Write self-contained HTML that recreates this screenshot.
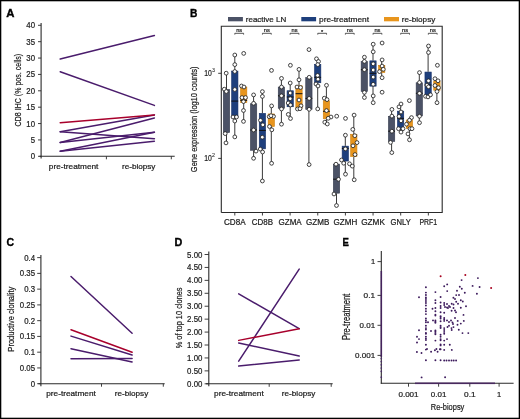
<!DOCTYPE html>
<html><head><meta charset="utf-8"><style>
html,body{margin:0;padding:0;background:#fff;}
body{width:520px;height:419px;overflow:hidden;}
svg{display:block;font-family:"Liberation Sans", sans-serif;will-change:transform;}
</style></head><body>
<svg width="520" height="419" viewBox="0 0 520 419">
<rect width="520" height="419" fill="#fff"/>
<rect x="0.6" y="0.6" width="518.8" height="417.8" fill="none" stroke="#000" stroke-width="1.4"/>
<text x="6.2" y="16.6" font-size="11" font-weight="bold" fill="#000" stroke="#000" stroke-width="0.35" textLength="8.2" lengthAdjust="spacingAndGlyphs">A</text>
<text x="189.9" y="16.9" font-size="11" font-weight="bold" fill="#000" stroke="#000" stroke-width="0.35" textLength="7.4" lengthAdjust="spacingAndGlyphs">B</text>
<text x="6.4" y="245.9" font-size="11" font-weight="bold" fill="#000" stroke="#000" stroke-width="0.35" textLength="7.6" lengthAdjust="spacingAndGlyphs">C</text>
<text x="174.6" y="245.9" font-size="11" font-weight="bold" fill="#000" stroke="#000" stroke-width="0.35" textLength="7.8" lengthAdjust="spacingAndGlyphs">D</text>
<text x="342.4" y="245.9" font-size="11" font-weight="bold" fill="#000" stroke="#000" stroke-width="0.35" textLength="6.4" lengthAdjust="spacingAndGlyphs">E</text>
<line x1="41.1" y1="23.0" x2="41.1" y2="158.5" stroke="#2a2a2a" stroke-width="1.1" />
<line x1="39.5" y1="156.3" x2="174.7" y2="156.3" stroke="#2a2a2a" stroke-width="1.1" />
<line x1="38.0" y1="156.3" x2="41.1" y2="156.3" stroke="#2a2a2a" stroke-width="0.9" />
<text x="35.0" y="159.3459" font-size="8.58" text-anchor="end" font-weight="normal" fill="#1c1c1c" textLength="4.34" lengthAdjust="spacingAndGlyphs"  stroke="#1c1c1c" stroke-width="0.22">0</text>
<line x1="38.0" y1="139.925" x2="41.1" y2="139.925" stroke="#2a2a2a" stroke-width="0.9" />
<text x="35.0" y="142.9709" font-size="8.58" text-anchor="end" font-weight="normal" fill="#1c1c1c" textLength="4.34" lengthAdjust="spacingAndGlyphs"  stroke="#1c1c1c" stroke-width="0.22">5</text>
<line x1="38.0" y1="123.55000000000001" x2="41.1" y2="123.55000000000001" stroke="#2a2a2a" stroke-width="0.9" />
<text x="35.0" y="126.59590000000001" font-size="8.58" text-anchor="end" font-weight="normal" fill="#1c1c1c" textLength="8.68" lengthAdjust="spacingAndGlyphs"  stroke="#1c1c1c" stroke-width="0.22">10</text>
<line x1="38.0" y1="107.17500000000001" x2="41.1" y2="107.17500000000001" stroke="#2a2a2a" stroke-width="0.9" />
<text x="35.0" y="110.22090000000001" font-size="8.58" text-anchor="end" font-weight="normal" fill="#1c1c1c" textLength="8.68" lengthAdjust="spacingAndGlyphs"  stroke="#1c1c1c" stroke-width="0.22">15</text>
<line x1="38.0" y1="90.80000000000001" x2="41.1" y2="90.80000000000001" stroke="#2a2a2a" stroke-width="0.9" />
<text x="35.0" y="93.84590000000001" font-size="8.58" text-anchor="end" font-weight="normal" fill="#1c1c1c" textLength="8.68" lengthAdjust="spacingAndGlyphs"  stroke="#1c1c1c" stroke-width="0.22">20</text>
<line x1="38.0" y1="74.42500000000001" x2="41.1" y2="74.42500000000001" stroke="#2a2a2a" stroke-width="0.9" />
<text x="35.0" y="77.47090000000001" font-size="8.58" text-anchor="end" font-weight="normal" fill="#1c1c1c" textLength="8.68" lengthAdjust="spacingAndGlyphs"  stroke="#1c1c1c" stroke-width="0.22">25</text>
<line x1="38.0" y1="58.05000000000001" x2="41.1" y2="58.05000000000001" stroke="#2a2a2a" stroke-width="0.9" />
<text x="35.0" y="61.095900000000015" font-size="8.58" text-anchor="end" font-weight="normal" fill="#1c1c1c" textLength="8.68" lengthAdjust="spacingAndGlyphs"  stroke="#1c1c1c" stroke-width="0.22">30</text>
<line x1="38.0" y1="41.67500000000001" x2="41.1" y2="41.67500000000001" stroke="#2a2a2a" stroke-width="0.9" />
<text x="35.0" y="44.720900000000015" font-size="8.58" text-anchor="end" font-weight="normal" fill="#1c1c1c" textLength="8.68" lengthAdjust="spacingAndGlyphs"  stroke="#1c1c1c" stroke-width="0.22">35</text>
<line x1="38.0" y1="25.30000000000001" x2="41.1" y2="25.30000000000001" stroke="#2a2a2a" stroke-width="0.9" />
<text x="35.0" y="28.34590000000001" font-size="8.58" text-anchor="end" font-weight="normal" fill="#1c1c1c" textLength="8.68" lengthAdjust="spacingAndGlyphs"  stroke="#1c1c1c" stroke-width="0.22">40</text>
<line x1="106.4" y1="156.3" x2="106.4" y2="159.3" stroke="#2a2a2a" stroke-width="0.9" />
<line x1="171.3" y1="156.3" x2="171.3" y2="159.3" stroke="#2a2a2a" stroke-width="0.9" />
<text x="73.6" y="169.3" font-size="8" text-anchor="middle" font-weight="normal" fill="#1c1c1c" textLength="49.6" lengthAdjust="spacingAndGlyphs"  stroke="#1c1c1c" stroke-width="0.22">pre-treatment</text>
<text x="138.7" y="169.3" font-size="8" text-anchor="middle" font-weight="normal" fill="#1c1c1c" textLength="33.5" lengthAdjust="spacingAndGlyphs"  stroke="#1c1c1c" stroke-width="0.22">re-biopsy</text>
<text x="20.6" y="90.1" font-size="9.8" text-anchor="middle" font-weight="normal" fill="#1c1c1c" textLength="72.6" lengthAdjust="spacingAndGlyphs" transform="rotate(-90 20.6 90.1)"  stroke="#1c1c1c" stroke-width="0.22">CD8 IHC (% pos. cells)</text>
<line x1="60.2" y1="59.0" x2="154.4" y2="35.6" stroke="#4a1c6c" stroke-width="1.5" stroke-linecap="round"/>
<line x1="60.2" y1="71.7" x2="154.4" y2="105.4" stroke="#4a1c6c" stroke-width="1.5" stroke-linecap="round"/>
<line x1="60.2" y1="131.7" x2="154.4" y2="114.9" stroke="#4a1c6c" stroke-width="1.5" stroke-linecap="round"/>
<line x1="60.2" y1="131.7" x2="154.4" y2="138.8" stroke="#4a1c6c" stroke-width="1.5" stroke-linecap="round"/>
<line x1="60.2" y1="142.5" x2="154.4" y2="117.9" stroke="#4a1c6c" stroke-width="1.5" stroke-linecap="round"/>
<line x1="60.2" y1="142.5" x2="154.4" y2="132.2" stroke="#4a1c6c" stroke-width="1.5" stroke-linecap="round"/>
<line x1="60.2" y1="151.2" x2="154.4" y2="132.2" stroke="#4a1c6c" stroke-width="1.5" stroke-linecap="round"/>
<line x1="60.2" y1="151.2" x2="154.4" y2="141.2" stroke="#4a1c6c" stroke-width="1.5" stroke-linecap="round"/>
<line x1="60.2" y1="122.8" x2="154.4" y2="114.9" stroke="#a8002c" stroke-width="1.5" stroke-linecap="round"/>
<line x1="40.9" y1="255.0" x2="40.9" y2="386.3" stroke="#2a2a2a" stroke-width="1.1" />
<line x1="38.4" y1="383.7" x2="164.7" y2="383.7" stroke="#2a2a2a" stroke-width="1.1" />
<line x1="37.2" y1="383.7" x2="40.9" y2="383.7" stroke="#2a2a2a" stroke-width="0.9" />
<text x="35.0" y="386.7459" font-size="8.58" text-anchor="end" font-weight="normal" fill="#1c1c1c" textLength="4.34" lengthAdjust="spacingAndGlyphs"  stroke="#1c1c1c" stroke-width="0.22">0</text>
<line x1="37.2" y1="367.94" x2="40.9" y2="367.94" stroke="#2a2a2a" stroke-width="0.9" />
<text x="35.0" y="370.9859" font-size="8.58" text-anchor="end" font-weight="normal" fill="#1c1c1c" textLength="15.18" lengthAdjust="spacingAndGlyphs"  stroke="#1c1c1c" stroke-width="0.22">0.05</text>
<line x1="37.2" y1="352.18" x2="40.9" y2="352.18" stroke="#2a2a2a" stroke-width="0.9" />
<text x="35.0" y="355.2259" font-size="8.58" text-anchor="end" font-weight="normal" fill="#1c1c1c" textLength="10.84" lengthAdjust="spacingAndGlyphs"  stroke="#1c1c1c" stroke-width="0.22">0.1</text>
<line x1="37.2" y1="336.41999999999996" x2="40.9" y2="336.41999999999996" stroke="#2a2a2a" stroke-width="0.9" />
<text x="35.0" y="339.4659" font-size="8.58" text-anchor="end" font-weight="normal" fill="#1c1c1c" textLength="15.18" lengthAdjust="spacingAndGlyphs"  stroke="#1c1c1c" stroke-width="0.22">0.15</text>
<line x1="37.2" y1="320.65999999999997" x2="40.9" y2="320.65999999999997" stroke="#2a2a2a" stroke-width="0.9" />
<text x="35.0" y="323.7059" font-size="8.58" text-anchor="end" font-weight="normal" fill="#1c1c1c" textLength="10.84" lengthAdjust="spacingAndGlyphs"  stroke="#1c1c1c" stroke-width="0.22">0.2</text>
<line x1="37.2" y1="304.9" x2="40.9" y2="304.9" stroke="#2a2a2a" stroke-width="0.9" />
<text x="35.0" y="307.9459" font-size="8.58" text-anchor="end" font-weight="normal" fill="#1c1c1c" textLength="15.18" lengthAdjust="spacingAndGlyphs"  stroke="#1c1c1c" stroke-width="0.22">0.25</text>
<line x1="37.2" y1="289.14" x2="40.9" y2="289.14" stroke="#2a2a2a" stroke-width="0.9" />
<text x="35.0" y="292.1859" font-size="8.58" text-anchor="end" font-weight="normal" fill="#1c1c1c" textLength="10.84" lengthAdjust="spacingAndGlyphs"  stroke="#1c1c1c" stroke-width="0.22">0.3</text>
<line x1="37.2" y1="273.38" x2="40.9" y2="273.38" stroke="#2a2a2a" stroke-width="0.9" />
<text x="35.0" y="276.4259" font-size="8.58" text-anchor="end" font-weight="normal" fill="#1c1c1c" textLength="15.18" lengthAdjust="spacingAndGlyphs"  stroke="#1c1c1c" stroke-width="0.22">0.35</text>
<line x1="37.2" y1="257.62" x2="40.9" y2="257.62" stroke="#2a2a2a" stroke-width="0.9" />
<text x="35.0" y="260.6659" font-size="8.58" text-anchor="end" font-weight="normal" fill="#1c1c1c" textLength="10.84" lengthAdjust="spacingAndGlyphs"  stroke="#1c1c1c" stroke-width="0.22">0.4</text>
<line x1="101.5" y1="383.7" x2="101.5" y2="386.7" stroke="#2a2a2a" stroke-width="0.9" />
<line x1="163.3" y1="383.7" x2="163.3" y2="386.7" stroke="#2a2a2a" stroke-width="0.9" />
<text x="71.0" y="396.4" font-size="8" text-anchor="middle" font-weight="normal" fill="#1c1c1c" textLength="49.6" lengthAdjust="spacingAndGlyphs"  stroke="#1c1c1c" stroke-width="0.22">pre-treatment</text>
<text x="131.5" y="396.4" font-size="8" text-anchor="middle" font-weight="normal" fill="#1c1c1c" textLength="33.5" lengthAdjust="spacingAndGlyphs"  stroke="#1c1c1c" stroke-width="0.22">re-biopsy</text>
<text x="14.3" y="319.2" font-size="9.2" text-anchor="middle" font-weight="normal" fill="#1c1c1c" textLength="64.9" lengthAdjust="spacingAndGlyphs" transform="rotate(-90 14.3 319.2)"  stroke="#1c1c1c" stroke-width="0.22">Productive clonality</text>
<line x1="71.0" y1="276.532" x2="132.1" y2="333.268" stroke="#4a1c6c" stroke-width="1.5" stroke-linecap="round"/>
<line x1="71.0" y1="336.1048" x2="132.1" y2="355.0168" stroke="#4a1c6c" stroke-width="1.5" stroke-linecap="round"/>
<line x1="71.0" y1="348.7128" x2="132.1" y2="361.9512" stroke="#4a1c6c" stroke-width="1.5" stroke-linecap="round"/>
<line x1="71.0" y1="358.7992" x2="132.1" y2="358.484" stroke="#4a1c6c" stroke-width="1.5" stroke-linecap="round"/>
<line x1="71.0" y1="329.8008" x2="132.1" y2="352.18" stroke="#a8002c" stroke-width="1.5" stroke-linecap="round"/>
<line x1="208.8" y1="251.5" x2="208.8" y2="386.3" stroke="#2a2a2a" stroke-width="1.1" />
<line x1="206.0" y1="383.8" x2="332.7" y2="383.8" stroke="#2a2a2a" stroke-width="1.1" />
<line x1="204.6" y1="383.8" x2="208.8" y2="383.8" stroke="#2a2a2a" stroke-width="0.9" />
<text x="202.4" y="386.84590000000003" font-size="8.58" text-anchor="end" font-weight="normal" fill="#1c1c1c" textLength="15.3" lengthAdjust="spacingAndGlyphs"  stroke="#1c1c1c" stroke-width="0.22">0.00</text>
<line x1="204.6" y1="370.87" x2="208.8" y2="370.87" stroke="#2a2a2a" stroke-width="0.9" />
<text x="202.4" y="373.9159" font-size="8.58" text-anchor="end" font-weight="normal" fill="#1c1c1c" textLength="15.3" lengthAdjust="spacingAndGlyphs"  stroke="#1c1c1c" stroke-width="0.22">0.50</text>
<line x1="204.6" y1="357.94" x2="208.8" y2="357.94" stroke="#2a2a2a" stroke-width="0.9" />
<text x="202.4" y="360.9859" font-size="8.58" text-anchor="end" font-weight="normal" fill="#1c1c1c" textLength="15.3" lengthAdjust="spacingAndGlyphs"  stroke="#1c1c1c" stroke-width="0.22">1.00</text>
<line x1="204.6" y1="345.01" x2="208.8" y2="345.01" stroke="#2a2a2a" stroke-width="0.9" />
<text x="202.4" y="348.0559" font-size="8.58" text-anchor="end" font-weight="normal" fill="#1c1c1c" textLength="15.3" lengthAdjust="spacingAndGlyphs"  stroke="#1c1c1c" stroke-width="0.22">1.50</text>
<line x1="204.6" y1="332.08000000000004" x2="208.8" y2="332.08000000000004" stroke="#2a2a2a" stroke-width="0.9" />
<text x="202.4" y="335.12590000000006" font-size="8.58" text-anchor="end" font-weight="normal" fill="#1c1c1c" textLength="15.3" lengthAdjust="spacingAndGlyphs"  stroke="#1c1c1c" stroke-width="0.22">2.00</text>
<line x1="204.6" y1="319.15" x2="208.8" y2="319.15" stroke="#2a2a2a" stroke-width="0.9" />
<text x="202.4" y="322.1959" font-size="8.58" text-anchor="end" font-weight="normal" fill="#1c1c1c" textLength="15.3" lengthAdjust="spacingAndGlyphs"  stroke="#1c1c1c" stroke-width="0.22">2.50</text>
<line x1="204.6" y1="306.22" x2="208.8" y2="306.22" stroke="#2a2a2a" stroke-width="0.9" />
<text x="202.4" y="309.26590000000004" font-size="8.58" text-anchor="end" font-weight="normal" fill="#1c1c1c" textLength="15.3" lengthAdjust="spacingAndGlyphs"  stroke="#1c1c1c" stroke-width="0.22">3.00</text>
<line x1="204.6" y1="293.29" x2="208.8" y2="293.29" stroke="#2a2a2a" stroke-width="0.9" />
<text x="202.4" y="296.33590000000004" font-size="8.58" text-anchor="end" font-weight="normal" fill="#1c1c1c" textLength="15.3" lengthAdjust="spacingAndGlyphs"  stroke="#1c1c1c" stroke-width="0.22">3.50</text>
<line x1="204.6" y1="280.36" x2="208.8" y2="280.36" stroke="#2a2a2a" stroke-width="0.9" />
<text x="202.4" y="283.40590000000003" font-size="8.58" text-anchor="end" font-weight="normal" fill="#1c1c1c" textLength="15.3" lengthAdjust="spacingAndGlyphs"  stroke="#1c1c1c" stroke-width="0.22">4.00</text>
<line x1="204.6" y1="267.43" x2="208.8" y2="267.43" stroke="#2a2a2a" stroke-width="0.9" />
<text x="202.4" y="270.4759" font-size="8.58" text-anchor="end" font-weight="normal" fill="#1c1c1c" textLength="15.3" lengthAdjust="spacingAndGlyphs"  stroke="#1c1c1c" stroke-width="0.22">4.50</text>
<line x1="204.6" y1="254.5" x2="208.8" y2="254.5" stroke="#2a2a2a" stroke-width="0.9" />
<text x="202.4" y="257.5459" font-size="8.58" text-anchor="end" font-weight="normal" fill="#1c1c1c" textLength="15.3" lengthAdjust="spacingAndGlyphs"  stroke="#1c1c1c" stroke-width="0.22">5.00</text>
<line x1="269.2" y1="383.8" x2="269.2" y2="386.8" stroke="#2a2a2a" stroke-width="0.9" />
<line x1="331.2" y1="383.8" x2="331.2" y2="386.8" stroke="#2a2a2a" stroke-width="0.9" />
<text x="238.9" y="396.4" font-size="8" text-anchor="middle" font-weight="normal" fill="#1c1c1c" textLength="49.6" lengthAdjust="spacingAndGlyphs"  stroke="#1c1c1c" stroke-width="0.22">pre-treatment</text>
<text x="298.6" y="396.4" font-size="8" text-anchor="middle" font-weight="normal" fill="#1c1c1c" textLength="33.5" lengthAdjust="spacingAndGlyphs"  stroke="#1c1c1c" stroke-width="0.22">re-biopsy</text>
<text x="182.5" y="317.9" font-size="9.2" text-anchor="middle" font-weight="normal" fill="#1c1c1c" textLength="60.8" lengthAdjust="spacingAndGlyphs" transform="rotate(-90 182.5 317.9)"  stroke="#1c1c1c" stroke-width="0.22">% of top 10 clones</text>
<line x1="238.7" y1="293.84000000000003" x2="299.2" y2="328.68" stroke="#4a1c6c" stroke-width="1.5" stroke-linecap="round"/>
<line x1="238.7" y1="342.98" x2="299.2" y2="355.98" stroke="#4a1c6c" stroke-width="1.5" stroke-linecap="round"/>
<line x1="238.7" y1="361.18" x2="299.2" y2="269.14" stroke="#4a1c6c" stroke-width="1.5" stroke-linecap="round"/>
<line x1="238.7" y1="366.12" x2="299.2" y2="359.88" stroke="#4a1c6c" stroke-width="1.5" stroke-linecap="round"/>
<line x1="238.7" y1="340.38" x2="299.2" y2="328.68" stroke="#a8002c" stroke-width="1.5" stroke-linecap="round"/>
<line x1="381.3" y1="251.0" x2="381.3" y2="383.7" stroke="#2a2a2a" stroke-width="1.1" />
<line x1="380.8" y1="383.2" x2="513.6" y2="383.2" stroke="#2a2a2a" stroke-width="1.1" />
<line x1="377.5" y1="261.6" x2="381.3" y2="261.6" stroke="#2a2a2a" stroke-width="0.9" />
<text x="375.1" y="264.45775000000003" font-size="8.05" text-anchor="end" font-weight="normal" fill="#1c1c1c" textLength="4.2" lengthAdjust="spacingAndGlyphs"  stroke="#1c1c1c" stroke-width="0.22">1</text>
<line x1="377.5" y1="295.4" x2="381.3" y2="295.4" stroke="#2a2a2a" stroke-width="0.9" />
<text x="375.1" y="298.25775" font-size="8.05" text-anchor="end" font-weight="normal" fill="#1c1c1c" textLength="11.5" lengthAdjust="spacingAndGlyphs"  stroke="#1c1c1c" stroke-width="0.22">0.1</text>
<line x1="377.5" y1="325.3" x2="381.3" y2="325.3" stroke="#2a2a2a" stroke-width="0.9" />
<text x="375.1" y="328.15775" font-size="8.05" text-anchor="end" font-weight="normal" fill="#1c1c1c" textLength="15.5" lengthAdjust="spacingAndGlyphs"  stroke="#1c1c1c" stroke-width="0.22">0.01</text>
<line x1="377.5" y1="355.4" x2="381.3" y2="355.4" stroke="#2a2a2a" stroke-width="0.9" />
<text x="375.1" y="358.25775" font-size="8.05" text-anchor="end" font-weight="normal" fill="#1c1c1c" textLength="20.1" lengthAdjust="spacingAndGlyphs"  stroke="#1c1c1c" stroke-width="0.22">0.001</text>
<line x1="408.5" y1="383.2" x2="408.5" y2="386.7" stroke="#2a2a2a" stroke-width="0.9" />
<text x="408.5" y="397.1" font-size="8.0" text-anchor="middle" font-weight="normal" fill="#1c1c1c" textLength="20.1" lengthAdjust="spacingAndGlyphs"  stroke="#1c1c1c" stroke-width="0.22">0.001</text>
<line x1="438.6" y1="383.2" x2="438.6" y2="386.7" stroke="#2a2a2a" stroke-width="0.9" />
<text x="438.6" y="397.1" font-size="8.0" text-anchor="middle" font-weight="normal" fill="#1c1c1c" textLength="15.5" lengthAdjust="spacingAndGlyphs"  stroke="#1c1c1c" stroke-width="0.22">0.01</text>
<line x1="469.8" y1="383.2" x2="469.8" y2="386.7" stroke="#2a2a2a" stroke-width="0.9" />
<text x="469.8" y="397.1" font-size="8.0" text-anchor="middle" font-weight="normal" fill="#1c1c1c" textLength="11.5" lengthAdjust="spacingAndGlyphs"  stroke="#1c1c1c" stroke-width="0.22">0.1</text>
<line x1="499.1" y1="383.2" x2="499.1" y2="386.7" stroke="#2a2a2a" stroke-width="0.9" />
<text x="499.1" y="397.1" font-size="8.0" text-anchor="middle" font-weight="normal" fill="#1c1c1c" textLength="4.2" lengthAdjust="spacingAndGlyphs"  stroke="#1c1c1c" stroke-width="0.22">1</text>
<text x="447.6" y="409.6" font-size="9.2" text-anchor="middle" font-weight="normal" fill="#1c1c1c" textLength="33.5" lengthAdjust="spacingAndGlyphs"  stroke="#1c1c1c" stroke-width="0.22">Re-biopsy</text>
<text x="350.0" y="316.8" font-size="10.2" text-anchor="middle" font-weight="normal" fill="#1c1c1c" textLength="46.4" lengthAdjust="spacingAndGlyphs" transform="rotate(-90 350.0 316.8)"  stroke="#1c1c1c" stroke-width="0.22">Pre-treatment</text>
<circle cx="381.3" cy="272.0" r="0.95" fill="#45205f"/>
<circle cx="381.3" cy="274.0" r="0.95" fill="#45205f"/>
<circle cx="381.3" cy="276.0" r="0.95" fill="#45205f"/>
<circle cx="381.3" cy="278.0" r="0.95" fill="#45205f"/>
<circle cx="381.3" cy="280.0" r="0.95" fill="#45205f"/>
<circle cx="381.3" cy="282.0" r="0.95" fill="#45205f"/>
<circle cx="381.3" cy="284.0" r="0.95" fill="#45205f"/>
<circle cx="381.3" cy="286.0" r="0.95" fill="#45205f"/>
<circle cx="381.3" cy="288.0" r="0.95" fill="#45205f"/>
<circle cx="381.3" cy="290.0" r="0.95" fill="#45205f"/>
<circle cx="381.3" cy="292.0" r="0.95" fill="#45205f"/>
<circle cx="381.3" cy="294.0" r="0.95" fill="#45205f"/>
<circle cx="381.3" cy="296.0" r="0.95" fill="#45205f"/>
<circle cx="381.3" cy="298.0" r="0.95" fill="#45205f"/>
<circle cx="381.3" cy="300.0" r="0.95" fill="#45205f"/>
<circle cx="381.3" cy="302.0" r="0.95" fill="#45205f"/>
<circle cx="381.3" cy="304.0" r="0.95" fill="#45205f"/>
<circle cx="381.3" cy="306.0" r="0.95" fill="#45205f"/>
<circle cx="381.3" cy="308.0" r="0.95" fill="#45205f"/>
<circle cx="381.3" cy="310.0" r="0.95" fill="#45205f"/>
<circle cx="381.3" cy="312.0" r="0.95" fill="#45205f"/>
<circle cx="381.3" cy="314.0" r="0.95" fill="#45205f"/>
<circle cx="381.3" cy="316.0" r="0.95" fill="#45205f"/>
<circle cx="381.3" cy="318.0" r="0.95" fill="#45205f"/>
<circle cx="381.3" cy="320.0" r="0.95" fill="#45205f"/>
<circle cx="381.3" cy="322.0" r="0.95" fill="#45205f"/>
<circle cx="381.3" cy="324.0" r="0.95" fill="#45205f"/>
<circle cx="381.3" cy="326.0" r="0.95" fill="#45205f"/>
<circle cx="381.3" cy="328.0" r="0.95" fill="#45205f"/>
<circle cx="381.3" cy="330.0" r="0.95" fill="#45205f"/>
<circle cx="381.3" cy="332.0" r="0.95" fill="#45205f"/>
<circle cx="381.3" cy="334.0" r="0.95" fill="#45205f"/>
<circle cx="381.3" cy="336.0" r="0.95" fill="#45205f"/>
<circle cx="381.3" cy="338.0" r="0.95" fill="#45205f"/>
<circle cx="381.3" cy="340.0" r="0.95" fill="#45205f"/>
<circle cx="381.3" cy="342.0" r="0.95" fill="#45205f"/>
<circle cx="381.3" cy="344.0" r="0.95" fill="#45205f"/>
<circle cx="381.3" cy="346.0" r="0.95" fill="#45205f"/>
<circle cx="381.3" cy="348.0" r="0.95" fill="#45205f"/>
<circle cx="381.3" cy="350.0" r="0.95" fill="#45205f"/>
<circle cx="381.3" cy="352.0" r="0.95" fill="#45205f"/>
<circle cx="381.3" cy="354.0" r="0.95" fill="#45205f"/>
<circle cx="381.3" cy="356.0" r="0.95" fill="#45205f"/>
<circle cx="381.3" cy="358.5" r="0.85" fill="#4a2a6a"/>
<circle cx="381.3" cy="361.5" r="0.85" fill="#4a2a6a"/>
<circle cx="381.3" cy="364.8" r="0.85" fill="#4a2a6a"/>
<circle cx="381.3" cy="368.0" r="0.85" fill="#4a2a6a"/>
<circle cx="381.3" cy="371.3" r="0.85" fill="#4a2a6a"/>
<circle cx="381.3" cy="377.2" r="0.85" fill="#4a2a6a"/>
<circle cx="416.0" cy="383.2" r="0.95" fill="#45205f"/>
<circle cx="418.0" cy="383.2" r="0.95" fill="#45205f"/>
<circle cx="420.0" cy="383.2" r="0.95" fill="#45205f"/>
<circle cx="422.0" cy="383.2" r="0.95" fill="#45205f"/>
<circle cx="424.0" cy="383.2" r="0.95" fill="#45205f"/>
<circle cx="426.0" cy="383.2" r="0.95" fill="#45205f"/>
<circle cx="428.0" cy="383.2" r="0.95" fill="#45205f"/>
<circle cx="430.0" cy="383.2" r="0.95" fill="#45205f"/>
<circle cx="432.0" cy="383.2" r="0.95" fill="#45205f"/>
<circle cx="434.0" cy="383.2" r="0.95" fill="#45205f"/>
<circle cx="436.0" cy="383.2" r="0.95" fill="#45205f"/>
<circle cx="438.0" cy="383.2" r="0.95" fill="#45205f"/>
<circle cx="440.0" cy="383.2" r="0.95" fill="#45205f"/>
<circle cx="442.0" cy="383.2" r="0.95" fill="#45205f"/>
<circle cx="444.0" cy="383.2" r="0.95" fill="#45205f"/>
<circle cx="446.0" cy="383.2" r="0.95" fill="#45205f"/>
<circle cx="448.0" cy="383.2" r="0.95" fill="#45205f"/>
<circle cx="450.0" cy="383.2" r="0.95" fill="#45205f"/>
<circle cx="452.0" cy="383.2" r="0.95" fill="#45205f"/>
<circle cx="454.0" cy="383.2" r="0.95" fill="#45205f"/>
<circle cx="456.0" cy="383.2" r="0.95" fill="#45205f"/>
<circle cx="458.0" cy="383.2" r="0.95" fill="#45205f"/>
<circle cx="460.0" cy="383.2" r="0.95" fill="#45205f"/>
<circle cx="462.0" cy="383.2" r="0.95" fill="#45205f"/>
<circle cx="464.0" cy="383.2" r="0.95" fill="#45205f"/>
<circle cx="466.0" cy="383.2" r="0.95" fill="#45205f"/>
<circle cx="468.0" cy="383.2" r="0.95" fill="#45205f"/>
<circle cx="470.0" cy="383.2" r="0.95" fill="#45205f"/>
<circle cx="472.0" cy="383.2" r="0.95" fill="#45205f"/>
<circle cx="474.0" cy="383.2" r="0.95" fill="#45205f"/>
<circle cx="476.0" cy="383.2" r="0.95" fill="#45205f"/>
<circle cx="478.0" cy="383.2" r="0.95" fill="#45205f"/>
<circle cx="480.0" cy="383.2" r="0.95" fill="#45205f"/>
<circle cx="482.0" cy="383.2" r="0.95" fill="#45205f"/>
<circle cx="484.0" cy="383.2" r="0.95" fill="#45205f"/>
<circle cx="486.0" cy="383.2" r="0.95" fill="#45205f"/>
<circle cx="488.0" cy="383.2" r="0.95" fill="#45205f"/>
<circle cx="490.0" cy="383.2" r="0.95" fill="#45205f"/>
<circle cx="492.0" cy="383.2" r="0.95" fill="#45205f"/>
<circle cx="494.0" cy="383.2" r="0.95" fill="#45205f"/>
<circle cx="425.9" cy="287.3" r="0.95" fill="#3c1a5c"/>
<circle cx="425.9" cy="292.6" r="0.95" fill="#3c1a5c"/>
<circle cx="425.9" cy="295" r="0.95" fill="#3c1a5c"/>
<circle cx="425.9" cy="297.5" r="0.95" fill="#3c1a5c"/>
<circle cx="425.9" cy="299" r="0.95" fill="#3c1a5c"/>
<circle cx="425.9" cy="301" r="0.95" fill="#3c1a5c"/>
<circle cx="425.9" cy="303" r="0.95" fill="#3c1a5c"/>
<circle cx="425.9" cy="305.5" r="0.95" fill="#3c1a5c"/>
<circle cx="425.9" cy="308.8" r="0.95" fill="#3c1a5c"/>
<circle cx="425.9" cy="311.3" r="0.95" fill="#3c1a5c"/>
<circle cx="425.9" cy="314.1" r="0.95" fill="#3c1a5c"/>
<circle cx="425.9" cy="318.5" r="0.95" fill="#3c1a5c"/>
<circle cx="425.9" cy="320.4" r="0.95" fill="#3c1a5c"/>
<circle cx="425.9" cy="322.3" r="0.95" fill="#3c1a5c"/>
<circle cx="425.9" cy="325.7" r="0.95" fill="#3c1a5c"/>
<circle cx="425.9" cy="328.1" r="0.95" fill="#3c1a5c"/>
<circle cx="425.9" cy="329.5" r="0.95" fill="#3c1a5c"/>
<circle cx="425.9" cy="332.9" r="0.95" fill="#3c1a5c"/>
<circle cx="425.9" cy="333.8" r="0.95" fill="#3c1a5c"/>
<circle cx="425.9" cy="336.7" r="0.95" fill="#3c1a5c"/>
<circle cx="425.9" cy="338.7" r="0.95" fill="#3c1a5c"/>
<circle cx="425.9" cy="340.1" r="0.95" fill="#3c1a5c"/>
<circle cx="425.9" cy="344.8" r="0.95" fill="#3c1a5c"/>
<circle cx="425.9" cy="349.6" r="0.95" fill="#3c1a5c"/>
<circle cx="425.9" cy="360.2" r="0.95" fill="#3c1a5c"/>
<circle cx="435.4" cy="292.1" r="0.95" fill="#3c1a5c"/>
<circle cx="435.4" cy="300.3" r="0.95" fill="#3c1a5c"/>
<circle cx="435.4" cy="303" r="0.95" fill="#3c1a5c"/>
<circle cx="435.4" cy="308" r="0.95" fill="#3c1a5c"/>
<circle cx="435.4" cy="311.3" r="0.95" fill="#3c1a5c"/>
<circle cx="435.4" cy="314.6" r="0.95" fill="#3c1a5c"/>
<circle cx="435.4" cy="315.6" r="0.95" fill="#3c1a5c"/>
<circle cx="435.4" cy="320.4" r="0.95" fill="#3c1a5c"/>
<circle cx="435.4" cy="321.8" r="0.95" fill="#3c1a5c"/>
<circle cx="435.4" cy="322.8" r="0.95" fill="#3c1a5c"/>
<circle cx="435.4" cy="330.5" r="0.95" fill="#3c1a5c"/>
<circle cx="435.4" cy="331.4" r="0.95" fill="#3c1a5c"/>
<circle cx="435.4" cy="332.9" r="0.95" fill="#3c1a5c"/>
<circle cx="435.4" cy="334.3" r="0.95" fill="#3c1a5c"/>
<circle cx="435.4" cy="340.6" r="0.95" fill="#3c1a5c"/>
<circle cx="435.4" cy="360.2" r="0.95" fill="#3c1a5c"/>
<circle cx="440.6" cy="297" r="0.95" fill="#3c1a5c"/>
<circle cx="440.6" cy="302.5" r="0.95" fill="#3c1a5c"/>
<circle cx="440.6" cy="306" r="0.95" fill="#3c1a5c"/>
<circle cx="440.6" cy="308" r="0.95" fill="#3c1a5c"/>
<circle cx="440.6" cy="312.2" r="0.95" fill="#3c1a5c"/>
<circle cx="440.6" cy="316.1" r="0.95" fill="#3c1a5c"/>
<circle cx="440.6" cy="317" r="0.95" fill="#3c1a5c"/>
<circle cx="440.6" cy="318.5" r="0.95" fill="#3c1a5c"/>
<circle cx="440.6" cy="321.3" r="0.95" fill="#3c1a5c"/>
<circle cx="440.6" cy="325.7" r="0.95" fill="#3c1a5c"/>
<circle cx="440.6" cy="327.1" r="0.95" fill="#3c1a5c"/>
<circle cx="440.6" cy="328.1" r="0.95" fill="#3c1a5c"/>
<circle cx="440.6" cy="334.8" r="0.95" fill="#3c1a5c"/>
<circle cx="440.6" cy="336.7" r="0.95" fill="#3c1a5c"/>
<circle cx="440.6" cy="339.1" r="0.95" fill="#3c1a5c"/>
<circle cx="440.6" cy="340.3" r="0.95" fill="#3c1a5c"/>
<circle cx="440.6" cy="344.4" r="0.95" fill="#3c1a5c"/>
<circle cx="440.6" cy="345.4" r="0.95" fill="#3c1a5c"/>
<circle cx="440.6" cy="349.2" r="0.95" fill="#3c1a5c"/>
<circle cx="440.6" cy="360.2" r="0.95" fill="#3c1a5c"/>
<circle cx="444.2" cy="303" r="0.95" fill="#3c1a5c"/>
<circle cx="444.2" cy="305" r="0.95" fill="#3c1a5c"/>
<circle cx="444.2" cy="312.7" r="0.95" fill="#3c1a5c"/>
<circle cx="444.2" cy="318" r="0.95" fill="#3c1a5c"/>
<circle cx="444.2" cy="319.4" r="0.95" fill="#3c1a5c"/>
<circle cx="444.2" cy="320.9" r="0.95" fill="#3c1a5c"/>
<circle cx="444.2" cy="328.1" r="0.95" fill="#3c1a5c"/>
<circle cx="444.2" cy="330" r="0.95" fill="#3c1a5c"/>
<circle cx="444.2" cy="331.9" r="0.95" fill="#3c1a5c"/>
<circle cx="444.2" cy="333.8" r="0.95" fill="#3c1a5c"/>
<circle cx="444.2" cy="340.6" r="0.95" fill="#3c1a5c"/>
<circle cx="444.2" cy="344.8" r="0.95" fill="#3c1a5c"/>
<circle cx="444.2" cy="349.9" r="0.95" fill="#3c1a5c"/>
<circle cx="444.2" cy="360.5" r="0.95" fill="#3c1a5c"/>
<circle cx="419" cy="297.2" r="0.95" fill="#3c1a5c"/>
<circle cx="419" cy="330.2" r="0.95" fill="#3c1a5c"/>
<circle cx="417" cy="336.7" r="0.95" fill="#3c1a5c"/>
<circle cx="419" cy="339.1" r="0.95" fill="#3c1a5c"/>
<circle cx="417" cy="342.5" r="0.95" fill="#3c1a5c"/>
<circle cx="416.9" cy="352" r="0.95" fill="#3c1a5c"/>
<circle cx="421.5" cy="353" r="0.95" fill="#3c1a5c"/>
<circle cx="421.6" cy="377.4" r="0.95" fill="#3c1a5c"/>
<circle cx="445.1" cy="377.2" r="0.95" fill="#3c1a5c"/>
<circle cx="428" cy="322.3" r="0.95" fill="#3c1a5c"/>
<circle cx="432.5" cy="308.8" r="0.95" fill="#3c1a5c"/>
<circle cx="433" cy="320.4" r="0.95" fill="#3c1a5c"/>
<circle cx="431" cy="331" r="0.95" fill="#3c1a5c"/>
<circle cx="427" cy="349" r="0.95" fill="#3c1a5c"/>
<circle cx="431.1" cy="351.8" r="0.95" fill="#3c1a5c"/>
<circle cx="434.9" cy="350.2" r="0.95" fill="#3c1a5c"/>
<circle cx="436.4" cy="349" r="0.95" fill="#3c1a5c"/>
<circle cx="439.9" cy="349.2" r="0.95" fill="#3c1a5c"/>
<circle cx="437.6" cy="351.8" r="0.95" fill="#3c1a5c"/>
<circle cx="444.2" cy="286.3" r="0.95" fill="#3c1a5c"/>
<circle cx="447.2" cy="284.4" r="0.95" fill="#3c1a5c"/>
<circle cx="447.2" cy="291.1" r="0.95" fill="#3c1a5c"/>
<circle cx="447" cy="304" r="0.95" fill="#3c1a5c"/>
<circle cx="447" cy="307.5" r="0.95" fill="#3c1a5c"/>
<circle cx="450" cy="307" r="0.95" fill="#3c1a5c"/>
<circle cx="445" cy="307" r="0.95" fill="#3c1a5c"/>
<circle cx="448" cy="308" r="0.95" fill="#3c1a5c"/>
<circle cx="449" cy="306" r="0.95" fill="#3c1a5c"/>
<circle cx="447" cy="320.4" r="0.95" fill="#3c1a5c"/>
<circle cx="449" cy="322" r="0.95" fill="#3c1a5c"/>
<circle cx="449" cy="325.7" r="0.95" fill="#3c1a5c"/>
<circle cx="447.5" cy="327" r="0.95" fill="#3c1a5c"/>
<circle cx="447" cy="339.1" r="0.95" fill="#3c1a5c"/>
<circle cx="449.8" cy="344.8" r="0.95" fill="#3c1a5c"/>
<circle cx="451.8" cy="349.9" r="0.95" fill="#3c1a5c"/>
<circle cx="446.5" cy="360.5" r="0.95" fill="#3c1a5c"/>
<circle cx="449" cy="360.5" r="0.95" fill="#3c1a5c"/>
<circle cx="451.5" cy="360.5" r="0.95" fill="#3c1a5c"/>
<circle cx="453.7" cy="360.5" r="0.95" fill="#3c1a5c"/>
<circle cx="456.1" cy="360.5" r="0.95" fill="#3c1a5c"/>
<circle cx="461.6" cy="280.1" r="0.95" fill="#3c1a5c"/>
<circle cx="477.9" cy="278.1" r="0.95" fill="#3c1a5c"/>
<circle cx="472.6" cy="285.9" r="0.95" fill="#3c1a5c"/>
<circle cx="479.6" cy="287" r="0.95" fill="#3c1a5c"/>
<circle cx="459.8" cy="286.7" r="0.95" fill="#3c1a5c"/>
<circle cx="461.8" cy="288.8" r="0.95" fill="#3c1a5c"/>
<circle cx="457" cy="290.8" r="0.95" fill="#3c1a5c"/>
<circle cx="464.8" cy="292.7" r="0.95" fill="#3c1a5c"/>
<circle cx="476.9" cy="293.8" r="0.95" fill="#3c1a5c"/>
<circle cx="456.2" cy="295.1" r="0.95" fill="#3c1a5c"/>
<circle cx="459" cy="295" r="0.95" fill="#3c1a5c"/>
<circle cx="453.4" cy="297.8" r="0.95" fill="#3c1a5c"/>
<circle cx="455" cy="299" r="0.95" fill="#3c1a5c"/>
<circle cx="460.8" cy="300.2" r="0.95" fill="#3c1a5c"/>
<circle cx="462.8" cy="301.5" r="0.95" fill="#3c1a5c"/>
<circle cx="456.2" cy="301.7" r="0.95" fill="#3c1a5c"/>
<circle cx="458" cy="303.7" r="0.95" fill="#3c1a5c"/>
<circle cx="451.7" cy="303.8" r="0.95" fill="#3c1a5c"/>
<circle cx="453.5" cy="304.5" r="0.95" fill="#3c1a5c"/>
<circle cx="466" cy="306.3" r="0.95" fill="#3c1a5c"/>
<circle cx="453.5" cy="308" r="0.95" fill="#3c1a5c"/>
<circle cx="460.8" cy="307.8" r="0.95" fill="#3c1a5c"/>
<circle cx="451.6" cy="310.8" r="0.95" fill="#3c1a5c"/>
<circle cx="455" cy="310.5" r="0.95" fill="#3c1a5c"/>
<circle cx="456" cy="312.2" r="0.95" fill="#3c1a5c"/>
<circle cx="463.5" cy="314.9" r="0.95" fill="#3c1a5c"/>
<circle cx="455" cy="318" r="0.95" fill="#3c1a5c"/>
<circle cx="451" cy="320.5" r="0.95" fill="#3c1a5c"/>
<circle cx="457.7" cy="320.9" r="0.95" fill="#3c1a5c"/>
<circle cx="463.8" cy="320.9" r="0.95" fill="#3c1a5c"/>
<circle cx="452.5" cy="322.5" r="0.95" fill="#3c1a5c"/>
<circle cx="453" cy="324" r="0.95" fill="#3c1a5c"/>
<circle cx="457.5" cy="324.8" r="0.95" fill="#3c1a5c"/>
<circle cx="460.8" cy="323.6" r="0.95" fill="#3c1a5c"/>
<circle cx="453.5" cy="327.1" r="0.95" fill="#3c1a5c"/>
<circle cx="451.5" cy="328.1" r="0.95" fill="#3c1a5c"/>
<circle cx="451.7" cy="330" r="0.95" fill="#3c1a5c"/>
<circle cx="458.8" cy="329.7" r="0.95" fill="#3c1a5c"/>
<circle cx="462.5" cy="333.1" r="0.95" fill="#3c1a5c"/>
<circle cx="468.3" cy="333.1" r="0.95" fill="#3c1a5c"/>
<circle cx="440.6" cy="276.3" r="1.0" fill="#a8001e"/>
<circle cx="465.3" cy="275.1" r="1.0" fill="#a8001e"/>
<circle cx="491.1" cy="288.1" r="1.0" fill="#a8001e"/>
<polyline points="221.3,212.5 221.3,26.2 442.2,26.2 442.2,212.5 221.3,212.5" fill="none" stroke="#2a2a2a" stroke-width="1.1"/>
<rect x="228" y="17" width="14.9" height="4.3" fill="#4b5266"/>
<text x="245.8" y="21.6" font-size="8" text-anchor="start" font-weight="normal" fill="#1c1c1c" textLength="40.4" lengthAdjust="spacingAndGlyphs"  stroke="#1c1c1c" stroke-width="0.22">reactive LN</text>
<rect x="301.3" y="17" width="14.8" height="4.3" fill="#1e3f7c"/>
<text x="319.0" y="21.6" font-size="8" text-anchor="start" font-weight="normal" fill="#1c1c1c" textLength="50.0" lengthAdjust="spacingAndGlyphs"  stroke="#1c1c1c" stroke-width="0.22">pre-treatment</text>
<rect x="384" y="17" width="15" height="4.3" fill="#e8951d"/>
<text x="401.8" y="21.6" font-size="8" text-anchor="start" font-weight="normal" fill="#1c1c1c" textLength="33.5" lengthAdjust="spacingAndGlyphs"  stroke="#1c1c1c" stroke-width="0.22">re-biopsy</text>
<line x1="218.2" y1="73.3" x2="221.3" y2="73.3" stroke="#2a2a2a" stroke-width="0.9" />
<text x="211.8" y="75.8" font-size="8.6" text-anchor="end" font-weight="normal" fill="#1c1c1c" textLength="7.6" lengthAdjust="spacingAndGlyphs"  stroke="#1c1c1c" stroke-width="0.22">10</text>
<text x="212.0" y="72.3" font-size="6.2" text-anchor="start" font-weight="normal" fill="#1c1c1c" textLength="3.0" lengthAdjust="spacingAndGlyphs"  stroke="#1c1c1c" stroke-width="0.05">3</text>
<line x1="218.2" y1="158.4" x2="221.3" y2="158.4" stroke="#2a2a2a" stroke-width="0.9" />
<text x="211.8" y="160.9" font-size="8.6" text-anchor="end" font-weight="normal" fill="#1c1c1c" textLength="7.6" lengthAdjust="spacingAndGlyphs"  stroke="#1c1c1c" stroke-width="0.22">10</text>
<text x="212.0" y="157.4" font-size="6.2" text-anchor="start" font-weight="normal" fill="#1c1c1c" textLength="3.0" lengthAdjust="spacingAndGlyphs"  stroke="#1c1c1c" stroke-width="0.05">2</text>
<text x="196.9" y="119.3" font-size="9.6" text-anchor="middle" font-weight="normal" fill="#1c1c1c" textLength="105.7" lengthAdjust="spacingAndGlyphs" transform="rotate(-90 196.9 119.3)"  stroke="#1c1c1c" stroke-width="0.22">Gene expression (log10 counts)</text>
<line x1="234.8" y1="212.5" x2="234.8" y2="215.5" stroke="#2a2a2a" stroke-width="0.9" />
<text x="234.8" y="225.1" font-size="8.4" text-anchor="middle" font-weight="normal" fill="#1c1c1c" textLength="21.6" lengthAdjust="spacingAndGlyphs"  stroke="#1c1c1c" stroke-width="0.22">CD8A</text>
<polyline points="234.8,34.6 234.8,33.3 243.60000000000002,33.3 243.60000000000002,34.6" fill="none" stroke="#2a2a2a" stroke-width="0.8"/>
<text x="239.20000000000002" y="32.2" font-size="5.6" text-anchor="middle" font-weight="normal" fill="#1c1c1c" textLength="6.0" lengthAdjust="spacingAndGlyphs"  stroke="#1c1c1c" stroke-width="0.22">ns</text>
<line x1="262.45" y1="212.5" x2="262.45" y2="215.5" stroke="#2a2a2a" stroke-width="0.9" />
<text x="262.45" y="225.1" font-size="8.4" text-anchor="middle" font-weight="normal" fill="#1c1c1c" textLength="21.2" lengthAdjust="spacingAndGlyphs"  stroke="#1c1c1c" stroke-width="0.22">CD8B</text>
<polyline points="262.45,34.6 262.45,33.3 271.25,33.3 271.25,34.6" fill="none" stroke="#2a2a2a" stroke-width="0.8"/>
<text x="266.84999999999997" y="32.2" font-size="5.6" text-anchor="middle" font-weight="normal" fill="#1c1c1c" textLength="6.0" lengthAdjust="spacingAndGlyphs"  stroke="#1c1c1c" stroke-width="0.22">ns</text>
<line x1="290.1" y1="212.5" x2="290.1" y2="215.5" stroke="#2a2a2a" stroke-width="0.9" />
<text x="290.1" y="225.1" font-size="8.4" text-anchor="middle" font-weight="normal" fill="#1c1c1c" textLength="23.2" lengthAdjust="spacingAndGlyphs"  stroke="#1c1c1c" stroke-width="0.22">GZMA</text>
<polyline points="290.1,34.6 290.1,33.3 298.90000000000003,33.3 298.90000000000003,34.6" fill="none" stroke="#2a2a2a" stroke-width="0.8"/>
<text x="294.5" y="32.2" font-size="5.6" text-anchor="middle" font-weight="normal" fill="#1c1c1c" textLength="6.0" lengthAdjust="spacingAndGlyphs"  stroke="#1c1c1c" stroke-width="0.22">ns</text>
<line x1="317.75" y1="212.5" x2="317.75" y2="215.5" stroke="#2a2a2a" stroke-width="0.9" />
<text x="317.75" y="225.1" font-size="8.4" text-anchor="middle" font-weight="normal" fill="#1c1c1c" textLength="23.3" lengthAdjust="spacingAndGlyphs"  stroke="#1c1c1c" stroke-width="0.22">GZMB</text>
<polyline points="317.75,34.6 317.75,33.3 326.55,33.3 326.55,34.6" fill="none" stroke="#2a2a2a" stroke-width="0.8"/>
<text x="322.15" y="33.6" font-size="5.6" text-anchor="middle" font-weight="normal" fill="#1c1c1c"  stroke="#1c1c1c" stroke-width="0.22">*</text>
<line x1="345.4" y1="212.5" x2="345.4" y2="215.5" stroke="#2a2a2a" stroke-width="0.9" />
<text x="345.4" y="225.1" font-size="8.4" text-anchor="middle" font-weight="normal" fill="#1c1c1c" textLength="23.7" lengthAdjust="spacingAndGlyphs"  stroke="#1c1c1c" stroke-width="0.22">GZMH</text>
<polyline points="345.4,34.6 345.4,33.3 354.2,33.3 354.2,34.6" fill="none" stroke="#2a2a2a" stroke-width="0.8"/>
<text x="349.79999999999995" y="32.2" font-size="5.6" text-anchor="middle" font-weight="normal" fill="#1c1c1c" textLength="6.0" lengthAdjust="spacingAndGlyphs"  stroke="#1c1c1c" stroke-width="0.22">ns</text>
<line x1="373.05" y1="212.5" x2="373.05" y2="215.5" stroke="#2a2a2a" stroke-width="0.9" />
<text x="373.05" y="225.1" font-size="8.4" text-anchor="middle" font-weight="normal" fill="#1c1c1c" textLength="23.7" lengthAdjust="spacingAndGlyphs"  stroke="#1c1c1c" stroke-width="0.22">GZMK</text>
<polyline points="373.05,34.6 373.05,33.3 381.85,33.3 381.85,34.6" fill="none" stroke="#2a2a2a" stroke-width="0.8"/>
<text x="377.45" y="32.2" font-size="5.6" text-anchor="middle" font-weight="normal" fill="#1c1c1c" textLength="6.0" lengthAdjust="spacingAndGlyphs"  stroke="#1c1c1c" stroke-width="0.22">ns</text>
<line x1="400.7" y1="212.5" x2="400.7" y2="215.5" stroke="#2a2a2a" stroke-width="0.9" />
<text x="400.7" y="225.1" font-size="8.4" text-anchor="middle" font-weight="normal" fill="#1c1c1c" textLength="20.3" lengthAdjust="spacingAndGlyphs"  stroke="#1c1c1c" stroke-width="0.22">GNLY</text>
<polyline points="400.7,34.6 400.7,33.3 409.5,33.3 409.5,34.6" fill="none" stroke="#2a2a2a" stroke-width="0.8"/>
<text x="405.09999999999997" y="32.2" font-size="5.6" text-anchor="middle" font-weight="normal" fill="#1c1c1c" textLength="6.0" lengthAdjust="spacingAndGlyphs"  stroke="#1c1c1c" stroke-width="0.22">ns</text>
<line x1="428.35" y1="212.5" x2="428.35" y2="215.5" stroke="#2a2a2a" stroke-width="0.9" />
<text x="428.35" y="225.1" font-size="8.4" text-anchor="middle" font-weight="normal" fill="#1c1c1c" textLength="17.7" lengthAdjust="spacingAndGlyphs"  stroke="#1c1c1c" stroke-width="0.22">PRF1</text>
<polyline points="428.35,34.6 428.35,33.3 437.15000000000003,33.3 437.15000000000003,34.6" fill="none" stroke="#2a2a2a" stroke-width="0.8"/>
<text x="432.75" y="32.2" font-size="5.6" text-anchor="middle" font-weight="normal" fill="#1c1c1c" textLength="6.0" lengthAdjust="spacingAndGlyphs"  stroke="#1c1c1c" stroke-width="0.22">ns</text>
<line x1="226.5" y1="73.2" x2="226.5" y2="89.2" stroke="#3a3a3a" stroke-width="1.0" />
<line x1="226.5" y1="132.8" x2="226.5" y2="142.9" stroke="#3a3a3a" stroke-width="1.0" />
<line x1="234.8" y1="55.0" x2="234.8" y2="70.8" stroke="#3a3a3a" stroke-width="1.0" />
<line x1="234.8" y1="116.6" x2="234.8" y2="136.9" stroke="#3a3a3a" stroke-width="1.0" />
<line x1="243.7" y1="102.8" x2="243.7" y2="121.4" stroke="#3a3a3a" stroke-width="1.0" />
<line x1="253.6" y1="94.9" x2="253.6" y2="103.5" stroke="#3a3a3a" stroke-width="1.0" />
<line x1="253.6" y1="150.5" x2="253.6" y2="158.3" stroke="#3a3a3a" stroke-width="1.0" />
<line x1="262.4" y1="91.6" x2="262.4" y2="113.1" stroke="#3a3a3a" stroke-width="1.0" />
<line x1="262.4" y1="149.1" x2="262.4" y2="181.0" stroke="#3a3a3a" stroke-width="1.0" />
<line x1="271.3" y1="105.9" x2="271.3" y2="113.7" stroke="#3a3a3a" stroke-width="1.0" />
<line x1="271.3" y1="126.8" x2="271.3" y2="163.3" stroke="#3a3a3a" stroke-width="1.0" />
<line x1="281.4" y1="78.4" x2="281.4" y2="86.8" stroke="#3a3a3a" stroke-width="1.0" />
<line x1="281.4" y1="108.5" x2="281.4" y2="124.2" stroke="#3a3a3a" stroke-width="1.0" />
<line x1="290.2" y1="83.0" x2="290.2" y2="90.5" stroke="#3a3a3a" stroke-width="1.0" />
<line x1="290.2" y1="107.0" x2="290.2" y2="118.5" stroke="#3a3a3a" stroke-width="1.0" />
<line x1="299.0" y1="69.4" x2="299.0" y2="85.5" stroke="#3a3a3a" stroke-width="1.0" />
<line x1="308.9" y1="109.7" x2="308.9" y2="164.6" stroke="#3a3a3a" stroke-width="1.0" />
<line x1="317.7" y1="58.8" x2="317.7" y2="64.2" stroke="#3a3a3a" stroke-width="1.0" />
<line x1="317.7" y1="83.0" x2="317.7" y2="108.9" stroke="#3a3a3a" stroke-width="1.0" />
<line x1="326.4" y1="85.3" x2="326.4" y2="100.5" stroke="#3a3a3a" stroke-width="1.0" />
<line x1="326.4" y1="119.0" x2="326.4" y2="124.0" stroke="#3a3a3a" stroke-width="1.0" />
<line x1="336.5" y1="193.4" x2="336.5" y2="205.5" stroke="#3a3a3a" stroke-width="1.0" />
<line x1="345.3" y1="135.2" x2="345.3" y2="145.9" stroke="#3a3a3a" stroke-width="1.0" />
<line x1="345.3" y1="161.3" x2="345.3" y2="174.2" stroke="#3a3a3a" stroke-width="1.0" />
<line x1="353.8" y1="115.1" x2="353.8" y2="134.0" stroke="#3a3a3a" stroke-width="1.0" />
<line x1="353.8" y1="156.8" x2="353.8" y2="179.8" stroke="#3a3a3a" stroke-width="1.0" />
<line x1="364.3" y1="57.2" x2="364.3" y2="61.3" stroke="#3a3a3a" stroke-width="1.0" />
<line x1="364.3" y1="91.7" x2="364.3" y2="97.5" stroke="#3a3a3a" stroke-width="1.0" />
<line x1="373.0" y1="44.2" x2="373.0" y2="60.6" stroke="#3a3a3a" stroke-width="1.0" />
<line x1="373.0" y1="86.4" x2="373.0" y2="102.7" stroke="#3a3a3a" stroke-width="1.0" />
<line x1="381.7" y1="59.9" x2="381.7" y2="65.1" stroke="#3a3a3a" stroke-width="1.0" />
<line x1="381.7" y1="72.8" x2="381.7" y2="77.7" stroke="#3a3a3a" stroke-width="1.0" />
<line x1="391.6" y1="109.4" x2="391.6" y2="116.1" stroke="#3a3a3a" stroke-width="1.0" />
<line x1="391.6" y1="141.6" x2="391.6" y2="152.6" stroke="#3a3a3a" stroke-width="1.0" />
<line x1="400.6" y1="104.0" x2="400.6" y2="110.9" stroke="#3a3a3a" stroke-width="1.0" />
<line x1="400.6" y1="128.7" x2="400.6" y2="132.1" stroke="#3a3a3a" stroke-width="1.0" />
<line x1="409.4" y1="117.6" x2="409.4" y2="119.8" stroke="#3a3a3a" stroke-width="1.0" />
<line x1="409.4" y1="128.7" x2="409.4" y2="139.8" stroke="#3a3a3a" stroke-width="1.0" />
<line x1="419.3" y1="72.6" x2="419.3" y2="82.5" stroke="#3a3a3a" stroke-width="1.0" />
<line x1="419.3" y1="116.2" x2="419.3" y2="122.7" stroke="#3a3a3a" stroke-width="1.0" />
<line x1="428.1" y1="46.0" x2="428.1" y2="71.8" stroke="#3a3a3a" stroke-width="1.0" />
<line x1="436.9" y1="90.5" x2="436.9" y2="102.7" stroke="#3a3a3a" stroke-width="1.0" />
<rect x="223.35" y="89.45" width="6.30" height="43.10" fill="#4b5266" stroke="#343a4d" stroke-width="0.6"/>
<rect x="231.65" y="71.05" width="6.30" height="45.30" fill="#1e3f7c" stroke="#152f66" stroke-width="0.6"/>
<line x1="231.4" y1="101.1" x2="238.20000000000002" y2="101.1" stroke="#111" stroke-width="1.0" />
<rect x="240.55" y="87.05" width="6.30" height="15.50" fill="#e8951d" stroke="#d0820f" stroke-width="0.6"/>
<line x1="240.29999999999998" y1="100.4" x2="247.1" y2="100.4" stroke="#111" stroke-width="1.0" />
<rect x="250.45" y="103.75" width="6.30" height="46.50" fill="#4b5266" stroke="#343a4d" stroke-width="0.6"/>
<line x1="250.2" y1="130.0" x2="257.0" y2="130.0" stroke="#111" stroke-width="1.0" />
<rect x="259.25" y="113.35" width="6.30" height="35.50" fill="#1e3f7c" stroke="#152f66" stroke-width="0.6"/>
<line x1="259.0" y1="130.4" x2="265.79999999999995" y2="130.4" stroke="#111" stroke-width="1.0" />
<rect x="268.15" y="113.95" width="6.30" height="12.60" fill="#e8951d" stroke="#d0820f" stroke-width="0.6"/>
<rect x="278.25" y="87.05" width="6.30" height="21.20" fill="#4b5266" stroke="#343a4d" stroke-width="0.6"/>
<line x1="278.0" y1="95.8" x2="284.79999999999995" y2="95.8" stroke="#111" stroke-width="1.0" />
<rect x="287.05" y="90.75" width="6.30" height="16.00" fill="#1e3f7c" stroke="#152f66" stroke-width="0.6"/>
<line x1="286.8" y1="97.0" x2="293.59999999999997" y2="97.0" stroke="#111" stroke-width="1.0" />
<rect x="295.85" y="85.75" width="6.30" height="22.50" fill="#e8951d" stroke="#d0820f" stroke-width="0.6"/>
<line x1="295.6" y1="93.7" x2="302.4" y2="93.7" stroke="#111" stroke-width="1.0" />
<rect x="305.75" y="77.55" width="6.30" height="31.90" fill="#4b5266" stroke="#343a4d" stroke-width="0.6"/>
<line x1="305.5" y1="98.4" x2="312.29999999999995" y2="98.4" stroke="#111" stroke-width="1.0" />
<rect x="314.55" y="64.45" width="6.30" height="18.30" fill="#1e3f7c" stroke="#152f66" stroke-width="0.6"/>
<line x1="314.3" y1="77.3" x2="321.09999999999997" y2="77.3" stroke="#111" stroke-width="1.0" />
<rect x="323.25" y="100.75" width="6.30" height="18.00" fill="#e8951d" stroke="#d0820f" stroke-width="0.6"/>
<line x1="323.0" y1="111.3" x2="329.79999999999995" y2="111.3" stroke="#111" stroke-width="1.0" />
<rect x="333.35" y="164.15" width="6.30" height="29.00" fill="#4b5266" stroke="#343a4d" stroke-width="0.6"/>
<line x1="333.1" y1="179.2" x2="339.9" y2="179.2" stroke="#111" stroke-width="1.0" />
<rect x="342.15" y="146.15" width="6.30" height="14.90" fill="#1e3f7c" stroke="#152f66" stroke-width="0.6"/>
<line x1="341.90000000000003" y1="148.4" x2="348.7" y2="148.4" stroke="#111" stroke-width="1.0" />
<rect x="350.65" y="134.25" width="6.30" height="22.30" fill="#e8951d" stroke="#d0820f" stroke-width="0.6"/>
<rect x="361.15" y="61.55" width="6.30" height="29.90" fill="#4b5266" stroke="#343a4d" stroke-width="0.6"/>
<line x1="360.90000000000003" y1="69.7" x2="367.7" y2="69.7" stroke="#111" stroke-width="1.0" />
<rect x="369.85" y="60.85" width="6.30" height="25.30" fill="#1e3f7c" stroke="#152f66" stroke-width="0.6"/>
<line x1="369.6" y1="73.3" x2="376.4" y2="73.3" stroke="#111" stroke-width="1.0" />
<rect x="378.55" y="65.35" width="6.30" height="7.20" fill="#e8951d" stroke="#d0820f" stroke-width="0.6"/>
<rect x="388.45" y="116.35" width="6.30" height="25.00" fill="#4b5266" stroke="#343a4d" stroke-width="0.6"/>
<line x1="388.20000000000005" y1="131.2" x2="395.0" y2="131.2" stroke="#111" stroke-width="1.0" />
<rect x="397.45" y="111.15" width="6.30" height="17.30" fill="#1e3f7c" stroke="#152f66" stroke-width="0.6"/>
<line x1="397.20000000000005" y1="118.3" x2="404.0" y2="118.3" stroke="#111" stroke-width="1.0" />
<rect x="406.25" y="120.05" width="6.30" height="8.40" fill="#e8951d" stroke="#d0820f" stroke-width="0.6"/>
<rect x="416.15" y="82.75" width="6.30" height="33.20" fill="#4b5266" stroke="#343a4d" stroke-width="0.6"/>
<line x1="415.90000000000003" y1="93.3" x2="422.7" y2="93.3" stroke="#111" stroke-width="1.0" />
<rect x="424.95" y="72.05" width="6.30" height="24.00" fill="#1e3f7c" stroke="#152f66" stroke-width="0.6"/>
<line x1="424.70000000000005" y1="85.0" x2="431.5" y2="85.0" stroke="#111" stroke-width="1.0" />
<rect x="433.75" y="81.05" width="6.30" height="9.20" fill="#e8951d" stroke="#d0820f" stroke-width="0.6"/>
<circle cx="226.2" cy="73.2" r="1.9" fill="#fff" stroke="#222" stroke-width="0.85"/>
<circle cx="224.3" cy="89.2" r="1.9" fill="#fff" stroke="#222" stroke-width="0.85"/>
<circle cx="226.3" cy="91.5" r="1.9" fill="#fff" stroke="#222" stroke-width="0.85"/>
<circle cx="225.2" cy="133.6" r="1.9" fill="#fff" stroke="#222" stroke-width="0.85"/>
<circle cx="226.0" cy="142.9" r="1.9" fill="#fff" stroke="#222" stroke-width="0.85"/>
<circle cx="234.8" cy="55" r="1.9" fill="#fff" stroke="#222" stroke-width="0.85"/>
<circle cx="234.8" cy="64.6" r="1.9" fill="#fff" stroke="#222" stroke-width="0.85"/>
<circle cx="234.8" cy="71.5" r="1.9" fill="#fff" stroke="#222" stroke-width="0.85"/>
<circle cx="234.8" cy="89.5" r="1.9" fill="#fff" stroke="#222" stroke-width="0.85"/>
<circle cx="233" cy="117" r="1.9" fill="#fff" stroke="#222" stroke-width="0.85"/>
<circle cx="236.5" cy="117" r="1.9" fill="#fff" stroke="#222" stroke-width="0.85"/>
<circle cx="234.8" cy="121" r="1.9" fill="#fff" stroke="#222" stroke-width="0.85"/>
<circle cx="234.8" cy="136.9" r="1.9" fill="#fff" stroke="#222" stroke-width="0.85"/>
<circle cx="243.7" cy="53.4" r="1.9" fill="#fff" stroke="#222" stroke-width="0.85"/>
<circle cx="241.5" cy="86" r="1.9" fill="#fff" stroke="#222" stroke-width="0.85"/>
<circle cx="244" cy="87" r="1.9" fill="#fff" stroke="#222" stroke-width="0.85"/>
<circle cx="242" cy="97.6" r="1.9" fill="#fff" stroke="#222" stroke-width="0.85"/>
<circle cx="245.5" cy="97.6" r="1.9" fill="#fff" stroke="#222" stroke-width="0.85"/>
<circle cx="243.5" cy="101.6" r="1.9" fill="#fff" stroke="#222" stroke-width="0.85"/>
<circle cx="243.5" cy="110.5" r="1.9" fill="#fff" stroke="#222" stroke-width="0.85"/>
<circle cx="243.5" cy="121.4" r="1.9" fill="#fff" stroke="#222" stroke-width="0.85"/>
<circle cx="253.6" cy="94.9" r="1.9" fill="#fff" stroke="#222" stroke-width="0.85"/>
<circle cx="253.6" cy="103.3" r="1.9" fill="#fff" stroke="#222" stroke-width="0.85"/>
<circle cx="253.6" cy="130" r="1.9" fill="#fff" stroke="#222" stroke-width="0.85"/>
<circle cx="256" cy="151.1" r="1.9" fill="#fff" stroke="#222" stroke-width="0.85"/>
<circle cx="253.6" cy="158.3" r="1.9" fill="#fff" stroke="#222" stroke-width="0.85"/>
<circle cx="262.4" cy="91.6" r="1.9" fill="#fff" stroke="#222" stroke-width="0.85"/>
<circle cx="262.4" cy="96.4" r="1.9" fill="#fff" stroke="#222" stroke-width="0.85"/>
<circle cx="260.5" cy="120.3" r="1.9" fill="#fff" stroke="#222" stroke-width="0.85"/>
<circle cx="262.8" cy="124.8" r="1.9" fill="#fff" stroke="#222" stroke-width="0.85"/>
<circle cx="262.3" cy="137.2" r="1.9" fill="#fff" stroke="#222" stroke-width="0.85"/>
<circle cx="260.3" cy="149.1" r="1.9" fill="#fff" stroke="#222" stroke-width="0.85"/>
<circle cx="262.6" cy="152" r="1.9" fill="#fff" stroke="#222" stroke-width="0.85"/>
<circle cx="262.4" cy="181" r="1.9" fill="#fff" stroke="#222" stroke-width="0.85"/>
<circle cx="271.5" cy="70.4" r="1.9" fill="#fff" stroke="#222" stroke-width="0.85"/>
<circle cx="271.6" cy="105.9" r="1.9" fill="#fff" stroke="#222" stroke-width="0.85"/>
<circle cx="269.2" cy="116.7" r="1.9" fill="#fff" stroke="#222" stroke-width="0.85"/>
<circle cx="273.5" cy="116.4" r="1.9" fill="#fff" stroke="#222" stroke-width="0.85"/>
<circle cx="271" cy="115.7" r="1.9" fill="#fff" stroke="#222" stroke-width="0.85"/>
<circle cx="269.5" cy="126.5" r="1.9" fill="#fff" stroke="#222" stroke-width="0.85"/>
<circle cx="271.8" cy="129.8" r="1.9" fill="#fff" stroke="#222" stroke-width="0.85"/>
<circle cx="271.6" cy="163.3" r="1.9" fill="#fff" stroke="#222" stroke-width="0.85"/>
<circle cx="281.5" cy="78.4" r="1.9" fill="#fff" stroke="#222" stroke-width="0.85"/>
<circle cx="281.5" cy="87" r="1.9" fill="#fff" stroke="#222" stroke-width="0.85"/>
<circle cx="281.5" cy="95.8" r="1.9" fill="#fff" stroke="#222" stroke-width="0.85"/>
<circle cx="281.5" cy="109" r="1.9" fill="#fff" stroke="#222" stroke-width="0.85"/>
<circle cx="281.5" cy="124.2" r="1.9" fill="#fff" stroke="#222" stroke-width="0.85"/>
<circle cx="290.4" cy="65.3" r="1.9" fill="#fff" stroke="#222" stroke-width="0.85"/>
<circle cx="290.2" cy="83" r="1.9" fill="#fff" stroke="#222" stroke-width="0.85"/>
<circle cx="290.2" cy="93" r="1.9" fill="#fff" stroke="#222" stroke-width="0.85"/>
<circle cx="290.2" cy="98.7" r="1.9" fill="#fff" stroke="#222" stroke-width="0.85"/>
<circle cx="288.2" cy="103" r="1.9" fill="#fff" stroke="#222" stroke-width="0.85"/>
<circle cx="290.5" cy="105" r="1.9" fill="#fff" stroke="#222" stroke-width="0.85"/>
<circle cx="288.3" cy="114.4" r="1.9" fill="#fff" stroke="#222" stroke-width="0.85"/>
<circle cx="290.5" cy="118.5" r="1.9" fill="#fff" stroke="#222" stroke-width="0.85"/>
<circle cx="299" cy="69.4" r="1.9" fill="#fff" stroke="#222" stroke-width="0.85"/>
<circle cx="299" cy="79.8" r="1.9" fill="#fff" stroke="#222" stroke-width="0.85"/>
<circle cx="297" cy="87" r="1.9" fill="#fff" stroke="#222" stroke-width="0.85"/>
<circle cx="300.5" cy="87.5" r="1.9" fill="#fff" stroke="#222" stroke-width="0.85"/>
<circle cx="299" cy="100" r="1.9" fill="#fff" stroke="#222" stroke-width="0.85"/>
<circle cx="301" cy="105.8" r="1.9" fill="#fff" stroke="#222" stroke-width="0.85"/>
<circle cx="297.5" cy="109" r="1.9" fill="#fff" stroke="#222" stroke-width="0.85"/>
<circle cx="300" cy="108.7" r="1.9" fill="#fff" stroke="#222" stroke-width="0.85"/>
<circle cx="309" cy="49.6" r="1.9" fill="#fff" stroke="#222" stroke-width="0.85"/>
<circle cx="309.2" cy="77.3" r="1.9" fill="#fff" stroke="#222" stroke-width="0.85"/>
<circle cx="309.2" cy="98.4" r="1.9" fill="#fff" stroke="#222" stroke-width="0.85"/>
<circle cx="309.2" cy="109.3" r="1.9" fill="#fff" stroke="#222" stroke-width="0.85"/>
<circle cx="309.1" cy="164.6" r="1.9" fill="#fff" stroke="#222" stroke-width="0.85"/>
<circle cx="316.5" cy="58.8" r="1.9" fill="#fff" stroke="#222" stroke-width="0.85"/>
<circle cx="318.5" cy="61.5" r="1.9" fill="#fff" stroke="#222" stroke-width="0.85"/>
<circle cx="317.8" cy="64.6" r="1.9" fill="#fff" stroke="#222" stroke-width="0.85"/>
<circle cx="317.6" cy="75.4" r="1.9" fill="#fff" stroke="#222" stroke-width="0.85"/>
<circle cx="318" cy="79.2" r="1.9" fill="#fff" stroke="#222" stroke-width="0.85"/>
<circle cx="316" cy="84" r="1.9" fill="#fff" stroke="#222" stroke-width="0.85"/>
<circle cx="318" cy="86" r="1.9" fill="#fff" stroke="#222" stroke-width="0.85"/>
<circle cx="317.7" cy="108.9" r="1.9" fill="#fff" stroke="#222" stroke-width="0.85"/>
<circle cx="326.5" cy="85.3" r="1.9" fill="#fff" stroke="#222" stroke-width="0.85"/>
<circle cx="324.3" cy="98.2" r="1.9" fill="#fff" stroke="#222" stroke-width="0.85"/>
<circle cx="327" cy="99.6" r="1.9" fill="#fff" stroke="#222" stroke-width="0.85"/>
<circle cx="326.5" cy="110.6" r="1.9" fill="#fff" stroke="#222" stroke-width="0.85"/>
<circle cx="331" cy="117" r="1.9" fill="#fff" stroke="#222" stroke-width="0.85"/>
<circle cx="328.2" cy="118.3" r="1.9" fill="#fff" stroke="#222" stroke-width="0.85"/>
<circle cx="324.8" cy="122.2" r="1.9" fill="#fff" stroke="#222" stroke-width="0.85"/>
<circle cx="327.3" cy="124" r="1.9" fill="#fff" stroke="#222" stroke-width="0.85"/>
<circle cx="336.7" cy="116.2" r="1.9" fill="#fff" stroke="#222" stroke-width="0.85"/>
<circle cx="336" cy="164.2" r="1.9" fill="#fff" stroke="#222" stroke-width="0.85"/>
<circle cx="338.5" cy="179.3" r="1.9" fill="#fff" stroke="#222" stroke-width="0.85"/>
<circle cx="334" cy="194" r="1.9" fill="#fff" stroke="#222" stroke-width="0.85"/>
<circle cx="336.5" cy="205.5" r="1.9" fill="#fff" stroke="#222" stroke-width="0.85"/>
<circle cx="345.5" cy="118.4" r="1.9" fill="#fff" stroke="#222" stroke-width="0.85"/>
<circle cx="345.4" cy="135.2" r="1.9" fill="#fff" stroke="#222" stroke-width="0.85"/>
<circle cx="345.4" cy="148.9" r="1.9" fill="#fff" stroke="#222" stroke-width="0.85"/>
<circle cx="341.5" cy="160" r="1.9" fill="#fff" stroke="#222" stroke-width="0.85"/>
<circle cx="343.7" cy="163.2" r="1.9" fill="#fff" stroke="#222" stroke-width="0.85"/>
<circle cx="345.5" cy="174.2" r="1.9" fill="#fff" stroke="#222" stroke-width="0.85"/>
<circle cx="354.1" cy="115.1" r="1.9" fill="#fff" stroke="#222" stroke-width="0.85"/>
<circle cx="352.8" cy="129.4" r="1.9" fill="#fff" stroke="#222" stroke-width="0.85"/>
<circle cx="354.8" cy="135.7" r="1.9" fill="#fff" stroke="#222" stroke-width="0.85"/>
<circle cx="357" cy="142.6" r="1.9" fill="#fff" stroke="#222" stroke-width="0.85"/>
<circle cx="353" cy="145.8" r="1.9" fill="#fff" stroke="#222" stroke-width="0.85"/>
<circle cx="355" cy="154.6" r="1.9" fill="#fff" stroke="#222" stroke-width="0.85"/>
<circle cx="349.5" cy="163.8" r="1.9" fill="#fff" stroke="#222" stroke-width="0.85"/>
<circle cx="352.3" cy="166.1" r="1.9" fill="#fff" stroke="#222" stroke-width="0.85"/>
<circle cx="354.2" cy="179.8" r="1.9" fill="#fff" stroke="#222" stroke-width="0.85"/>
<circle cx="364.4" cy="57.2" r="1.9" fill="#fff" stroke="#222" stroke-width="0.85"/>
<circle cx="364.4" cy="61.4" r="1.9" fill="#fff" stroke="#222" stroke-width="0.85"/>
<circle cx="364.4" cy="69.7" r="1.9" fill="#fff" stroke="#222" stroke-width="0.85"/>
<circle cx="364.4" cy="92.4" r="1.9" fill="#fff" stroke="#222" stroke-width="0.85"/>
<circle cx="364.4" cy="97.5" r="1.9" fill="#fff" stroke="#222" stroke-width="0.85"/>
<circle cx="373.2" cy="44.2" r="1.9" fill="#fff" stroke="#222" stroke-width="0.85"/>
<circle cx="373.2" cy="51.8" r="1.9" fill="#fff" stroke="#222" stroke-width="0.85"/>
<circle cx="373.2" cy="63.8" r="1.9" fill="#fff" stroke="#222" stroke-width="0.85"/>
<circle cx="373.2" cy="70" r="1.9" fill="#fff" stroke="#222" stroke-width="0.85"/>
<circle cx="373.2" cy="77.1" r="1.9" fill="#fff" stroke="#222" stroke-width="0.85"/>
<circle cx="373.2" cy="84.3" r="1.9" fill="#fff" stroke="#222" stroke-width="0.85"/>
<circle cx="373.2" cy="95.9" r="1.9" fill="#fff" stroke="#222" stroke-width="0.85"/>
<circle cx="373.2" cy="102.7" r="1.9" fill="#fff" stroke="#222" stroke-width="0.85"/>
<circle cx="382.1" cy="43" r="1.9" fill="#fff" stroke="#222" stroke-width="0.85"/>
<circle cx="382.1" cy="59.9" r="1.9" fill="#fff" stroke="#222" stroke-width="0.85"/>
<circle cx="382.1" cy="66.1" r="1.9" fill="#fff" stroke="#222" stroke-width="0.85"/>
<circle cx="383.3" cy="69.3" r="1.9" fill="#fff" stroke="#222" stroke-width="0.85"/>
<circle cx="379.5" cy="71.6" r="1.9" fill="#fff" stroke="#222" stroke-width="0.85"/>
<circle cx="382.1" cy="77.7" r="1.9" fill="#fff" stroke="#222" stroke-width="0.85"/>
<circle cx="382.1" cy="92.2" r="1.9" fill="#fff" stroke="#222" stroke-width="0.85"/>
<circle cx="391.9" cy="109.4" r="1.9" fill="#fff" stroke="#222" stroke-width="0.85"/>
<circle cx="391.9" cy="116.1" r="1.9" fill="#fff" stroke="#222" stroke-width="0.85"/>
<circle cx="391.9" cy="131.2" r="1.9" fill="#fff" stroke="#222" stroke-width="0.85"/>
<circle cx="390.5" cy="142.4" r="1.9" fill="#fff" stroke="#222" stroke-width="0.85"/>
<circle cx="391.8" cy="152.6" r="1.9" fill="#fff" stroke="#222" stroke-width="0.85"/>
<circle cx="401" cy="104" r="1.9" fill="#fff" stroke="#222" stroke-width="0.85"/>
<circle cx="399" cy="106.9" r="1.9" fill="#fff" stroke="#222" stroke-width="0.85"/>
<circle cx="401" cy="112" r="1.9" fill="#fff" stroke="#222" stroke-width="0.85"/>
<circle cx="399" cy="116.4" r="1.9" fill="#fff" stroke="#222" stroke-width="0.85"/>
<circle cx="401" cy="120.8" r="1.9" fill="#fff" stroke="#222" stroke-width="0.85"/>
<circle cx="398.5" cy="128.7" r="1.9" fill="#fff" stroke="#222" stroke-width="0.85"/>
<circle cx="403" cy="128.7" r="1.9" fill="#fff" stroke="#222" stroke-width="0.85"/>
<circle cx="401" cy="132.1" r="1.9" fill="#fff" stroke="#222" stroke-width="0.85"/>
<circle cx="409.4" cy="100.6" r="1.9" fill="#fff" stroke="#222" stroke-width="0.85"/>
<circle cx="411.5" cy="117.6" r="1.9" fill="#fff" stroke="#222" stroke-width="0.85"/>
<circle cx="409.5" cy="120.2" r="1.9" fill="#fff" stroke="#222" stroke-width="0.85"/>
<circle cx="406.5" cy="124.2" r="1.9" fill="#fff" stroke="#222" stroke-width="0.85"/>
<circle cx="410" cy="128.7" r="1.9" fill="#fff" stroke="#222" stroke-width="0.85"/>
<circle cx="412" cy="128.7" r="1.9" fill="#fff" stroke="#222" stroke-width="0.85"/>
<circle cx="408" cy="133.9" r="1.9" fill="#fff" stroke="#222" stroke-width="0.85"/>
<circle cx="409.5" cy="139.8" r="1.9" fill="#fff" stroke="#222" stroke-width="0.85"/>
<circle cx="419.5" cy="72.6" r="1.9" fill="#fff" stroke="#222" stroke-width="0.85"/>
<circle cx="419.5" cy="82.5" r="1.9" fill="#fff" stroke="#222" stroke-width="0.85"/>
<circle cx="419.5" cy="93.3" r="1.9" fill="#fff" stroke="#222" stroke-width="0.85"/>
<circle cx="419.5" cy="116.2" r="1.9" fill="#fff" stroke="#222" stroke-width="0.85"/>
<circle cx="419.5" cy="122.7" r="1.9" fill="#fff" stroke="#222" stroke-width="0.85"/>
<circle cx="428.5" cy="46" r="1.9" fill="#fff" stroke="#222" stroke-width="0.85"/>
<circle cx="428.5" cy="52.5" r="1.9" fill="#fff" stroke="#222" stroke-width="0.85"/>
<circle cx="428.5" cy="80.8" r="1.9" fill="#fff" stroke="#222" stroke-width="0.85"/>
<circle cx="427" cy="85.1" r="1.9" fill="#fff" stroke="#222" stroke-width="0.85"/>
<circle cx="428.5" cy="86.8" r="1.9" fill="#fff" stroke="#222" stroke-width="0.85"/>
<circle cx="425.5" cy="96.3" r="1.9" fill="#fff" stroke="#222" stroke-width="0.85"/>
<circle cx="428" cy="96.9" r="1.9" fill="#fff" stroke="#222" stroke-width="0.85"/>
<circle cx="430.5" cy="94.8" r="1.9" fill="#fff" stroke="#222" stroke-width="0.85"/>
<circle cx="437.4" cy="65.3" r="1.9" fill="#fff" stroke="#222" stroke-width="0.85"/>
<circle cx="435" cy="78.7" r="1.9" fill="#fff" stroke="#222" stroke-width="0.85"/>
<circle cx="438" cy="80.8" r="1.9" fill="#fff" stroke="#222" stroke-width="0.85"/>
<circle cx="435" cy="85.5" r="1.9" fill="#fff" stroke="#222" stroke-width="0.85"/>
<circle cx="438.5" cy="87.7" r="1.9" fill="#fff" stroke="#222" stroke-width="0.85"/>
<circle cx="437" cy="91.5" r="1.9" fill="#fff" stroke="#222" stroke-width="0.85"/>
<circle cx="437" cy="102.7" r="1.9" fill="#fff" stroke="#222" stroke-width="0.85"/>
</svg>
</body></html>
